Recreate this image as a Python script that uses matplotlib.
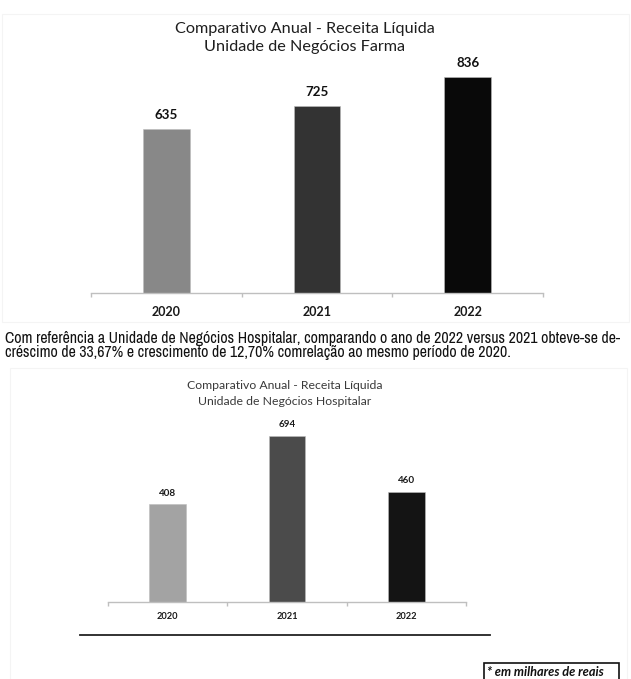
import matplotlib
matplotlib.use("Agg")
import matplotlib.pyplot as plt
from matplotlib.patches import Rectangle
from matplotlib import font_manager

# ---- data ----
years = ["2020", "2021", "2022"]
farma_values = [635, 725, 836]
hosp_values = [408, 694, 460]

farma_title = "Comparativo Anual - Receita Líquida\nUnidade de Negócios Farma"
hosp_title = "Comparativo Anual - Receita Líquida\nUnidade de Negócios Hospitalar"
paragraph = [
    "Com referência a Unidade de Negócios Hospitalar, comparando o ano de 2022 versus 2021 obteve-se de-",
    "créscimo de 33,67% e crescimento de 12,70% comrelação ao mesmo período de 2020.",
]
footnote = "* em milhares de reais"

farma_colors = ["#888888", "#333333", "#090909"]
hosp_colors = ["#a3a3a3", "#4b4b4b", "#141414"]

W, H = 631, 679
fig = plt.figure(figsize=(W / 100, H / 100), dpi=100)
fig.patch.set_facecolor("white")

def fx(x):
    return x / W

def fy(y):
    return 1 - y / H

fonts = font_manager.fontManager.ttflist
available = {f.name for f in fonts}
chart_font = [f for f in ["Lato", "Open Sans", "DejaVu Sans"] if f in available][:1] + ["DejaVu Sans"]


def is_regular(f):
    return f.style == "normal" and f.weight in (400, "normal", "regular", "book")


# prefer an Arial-Narrow-like face for the body text
narrow = None
for key in ["liberation sans narrow", "arial narrow", "narrow", "condensed"]:
    for f in fonts:
        if key in f.name.lower() and is_regular(f):
            narrow = f.fname
            break
    if narrow:
        break
if narrow is not None:
    body_props = font_manager.FontProperties(fname=narrow)
else:
    body_props = font_manager.FontProperties(family=["Liberation Sans", "DejaVu Sans"])

# barely visible frames around the two pasted charts
fig.patches.append(Rectangle((fx(2), fy(322)), fx(629) - fx(2), fy(14) - fy(322),
                             transform=fig.transFigure, fill=False,
                             edgecolor="#f4f4f4", linewidth=0.8))
fig.patches.append(Rectangle((fx(10), fy(700)), fx(627) - fx(10), fy(368) - fy(700),
                             transform=fig.transFigure, fill=False,
                             edgecolor="#f4f4f4", linewidth=0.8))


def bar_chart(left, right, base, px_per_unit, top_px, values, colors,
              tick_size, label_gap):
    height_units = (base - top_px) / px_per_unit
    ax = fig.add_axes([fx(left), fy(base), fx(right) - fx(left), fy(top_px) - fy(base)])
    x = list(range(len(years)))
    ax.bar(x, values, width=0.31, color=colors, edgecolor="#bdbdbd", linewidth=0.4)
    ax.set_xlim(-0.5, len(years) - 0.5)
    ax.set_ylim(0, height_units)
    for s in ["top", "right", "left"]:
        ax.spines[s].set_visible(False)
    ax.spines["bottom"].set_color("#bfbfbf")
    ax.spines["bottom"].set_linewidth(1.0)
    ax.set_yticks([])
    ax.set_xticks(x)
    ax.set_xticklabels(years, fontsize=tick_size, fontweight="bold",
                       family=chart_font, color="#1a1a1a")
    ax.tick_params(axis="x", which="major", length=0, pad=label_gap)
    ax.set_xticks([i - 0.5 for i in range(len(years) + 1)], minor=True)
    ax.tick_params(axis="x", which="minor", length=3, color="#bfbfbf", width=1.0)
    ax.patch.set_alpha(0)
    return ax


# ---- Farma chart ----
ax1 = bar_chart(91, 543, 293, 0.2583, 20, farma_values, farma_colors, 9.0, 9)
for i, v in enumerate(farma_values):
    ax1.annotate(str(v), (i, v), xytext=(0, 10), textcoords="offset points",
                 ha="center", va="center", fontsize=9.6, fontweight="bold",
                 family=chart_font, color="#111111", annotation_clip=False)
fig.text(fx(305), fy(38), farma_title, ha="center", va="center", fontsize=11.7,
         family=chart_font, color="#1e1e1e", linespacing=1.4)

# ---- paragraph (sized so the first line spans the text column) ----
texts = []
for line, base in zip(paragraph, [343, 356.5]):
    t = fig.text(fx(5), fy(base), line, ha="left", va="baseline",
                 fontproperties=body_props, color="#111111")
    t.set_fontsize(9.0)
    texts.append(t)
renderer = fig.canvas.get_renderer()
w0 = texts[0].get_window_extent(renderer).width
size = min(9.0 * 619.0 / w0, 11.4)
for t in texts:
    t.set_fontsize(size)

# ---- Hospitalar chart ----
ax2 = bar_chart(108, 466, 602, 0.2392, 400, hosp_values, hosp_colors, 6.7, 7)
for i, v in enumerate(hosp_values):
    ax2.annotate(str(v), (i, v), xytext=(0, 8.2), textcoords="offset points",
                 ha="center", va="center", fontsize=7.1, fontweight="bold",
                 family=chart_font, color="#1a1a1a", annotation_clip=False)
fig.text(fx(285), fy(393.5), hosp_title, ha="center", va="center", fontsize=8.8,
         family=chart_font, color="#3a3a3a", linespacing=1.5)

# separator line under the chart
fig.add_artist(plt.Line2D([fx(80), fx(490)], [fy(634.5), fy(634.5)],
                          transform=fig.transFigure, color="#222222", linewidth=1.3))

# footnote box
fig.patches.append(Rectangle((fx(483.5), fy(690)), fx(618.5) - fx(483.5), fy(662.5) - fy(690),
                             transform=fig.transFigure, fill=False,
                             edgecolor="#111111", linewidth=1.2))
fig.text(fx(487), fy(672), footnote, ha="left", va="center", fontsize=9.2,
         fontweight="bold", fontstyle="italic", family=chart_font, color="#111111")

fig.savefig("out.png", dpi=100)
